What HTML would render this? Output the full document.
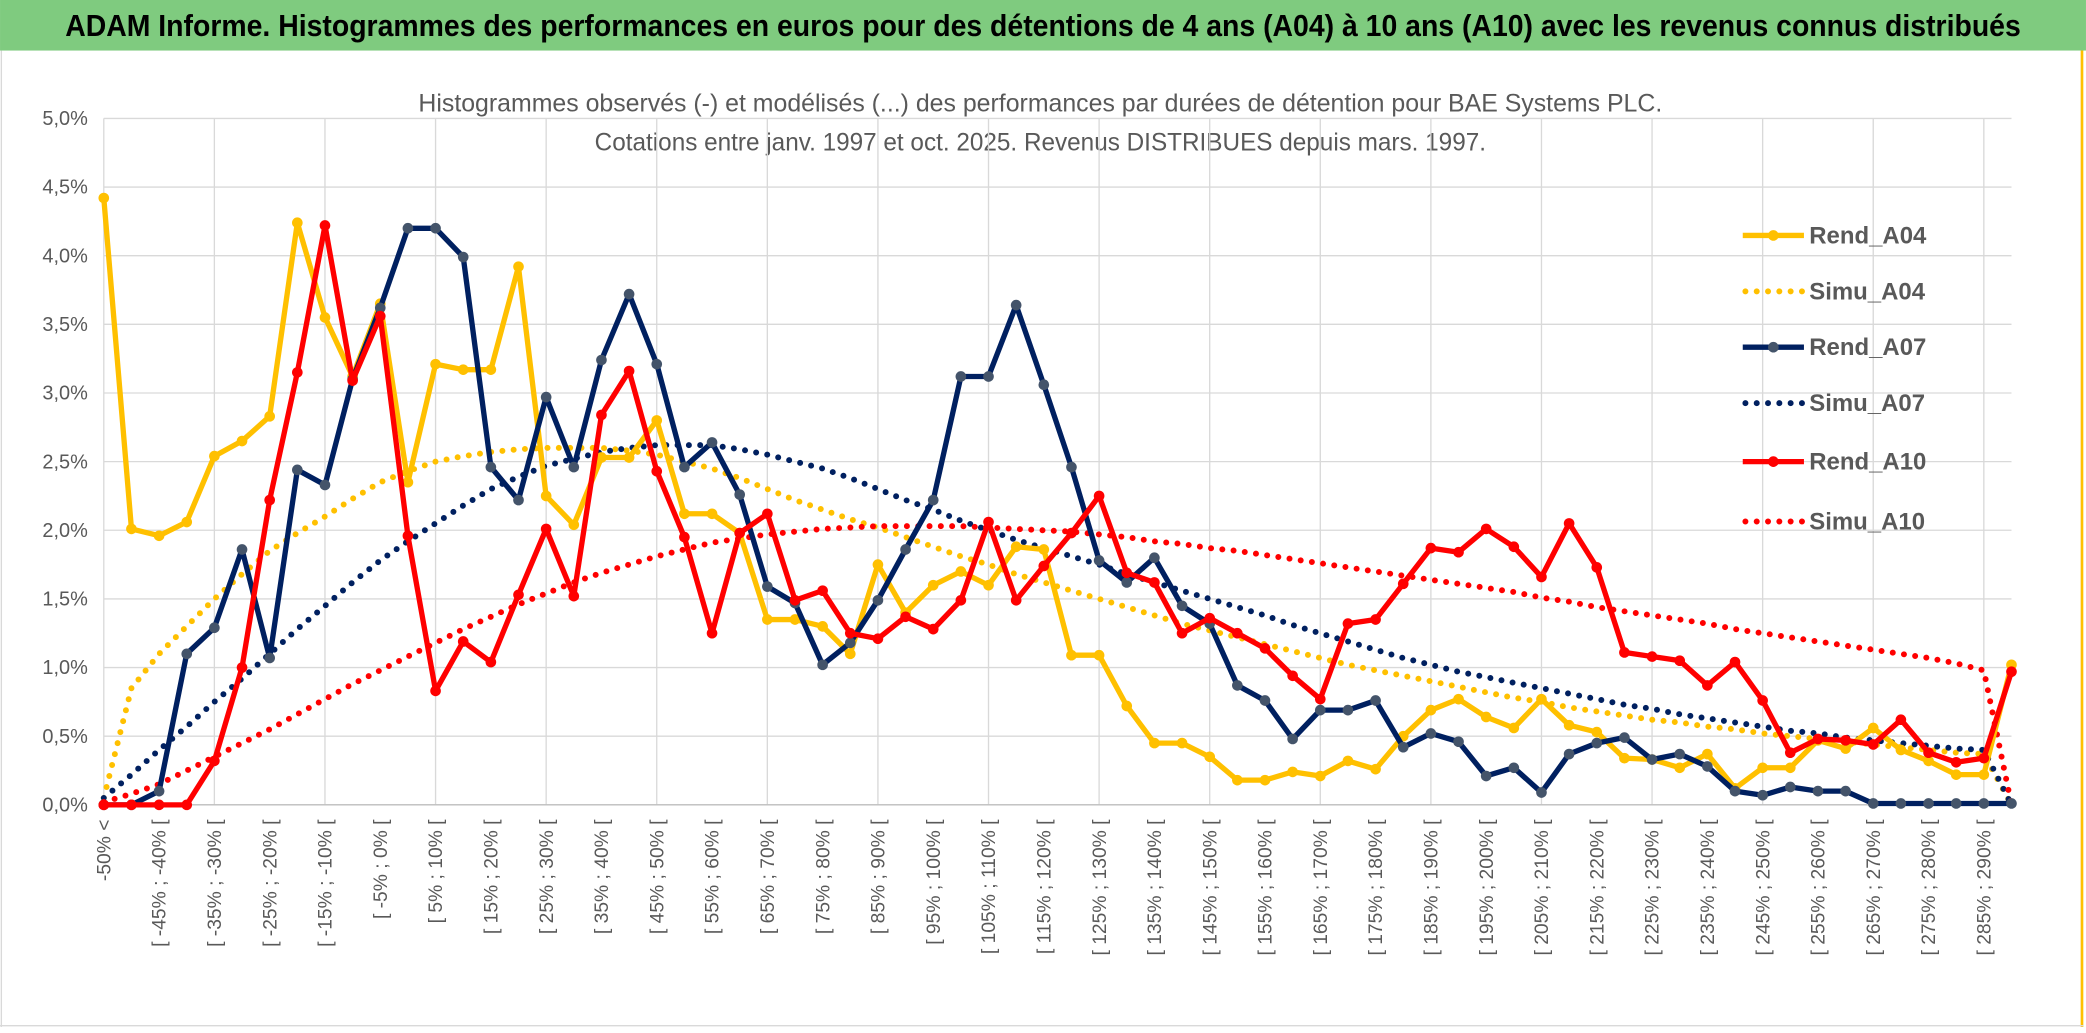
<!DOCTYPE html>
<html><head><meta charset="utf-8"><style>
html,body{margin:0;padding:0;background:#fff;}
svg{display:block;}
text{font-family:"Liberation Sans Narrow","Liberation Sans",sans-serif;}
</style></head><body>
<svg id="chart" width="2086" height="1033" viewBox="0 0 1568 776.5" xmlns="http://www.w3.org/2000/svg">
<rect x="0" y="0" width="1568" height="776.5" fill="#fff"/>
<rect x="0" y="0" width="1568" height="38" fill="#7fcb7f"/>
<text x="784" y="27" text-anchor="middle" font-size="23" font-weight="bold" fill="#000" textLength="1470" lengthAdjust="spacingAndGlyphs">ADAM Informe. Histogrammes des performances en euros pour des détentions de 4 ans (A04) à 10 ans (A10) avec les revenus connus distribués</text>
<line x1="1565" y1="38" x2="1565" y2="772" stroke="#ffc000" stroke-width="2"/>
<line x1="1" y1="38" x2="1" y2="772" stroke="#d9d9d9" stroke-width="1"/>
<line x1="0" y1="771" x2="1566" y2="771" stroke="#d9d9d9" stroke-width="1"/>
<text x="782" y="84" text-anchor="middle" font-size="19" fill="#595959" textLength="935" lengthAdjust="spacingAndGlyphs">Histogrammes observés (-) et modélisés (...) des performances par durées de détention pour BAE Systems PLC.</text>
<text x="782" y="113" text-anchor="middle" font-size="19" fill="#595959" textLength="670" lengthAdjust="spacingAndGlyphs">Cotations entre janv. 1997 et oct. 2025. Revenus DISTRIBUES depuis mars. 1997.</text>
<g id="grid"></g><g id="yaxis"></g><g id="xaxis"></g><g id="series"></g><g id="legend"></g>
</svg>
<script>
const rendA04=[4.42,2.01,1.96,2.06,2.54,2.65,2.83,4.24,3.55,3.12,3.65,2.35,3.21,3.17,3.17,3.92,2.25,2.04,2.53,2.53,2.80,2.12,2.12,1.98,1.35,1.35,1.30,1.10,1.75,1.40,1.60,1.70,1.60,1.88,1.86,1.09,1.09,0.72,0.45,0.45,0.35,0.18,0.18,0.24,0.21,0.32,0.26,0.50,0.69,0.77,0.64,0.56,0.77,0.58,0.53,0.34,0.33,0.27,0.37,0.12,0.27,0.27,0.47,0.41,0.56,0.40,0.32,0.22,0.22,1.02];
const rendA07=[0,0,0.1,1.1,1.29,1.86,1.07,2.44,2.33,3.10,3.62,4.20,4.20,3.99,2.46,2.22,2.97,2.46,3.24,3.72,3.21,2.46,2.64,2.26,1.59,1.47,1.02,1.18,1.49,1.86,2.22,3.12,3.12,3.64,3.06,2.46,1.78,1.62,1.80,1.45,1.32,0.87,0.76,0.48,0.69,0.69,0.76,0.42,0.52,0.46,0.21,0.27,0.09,0.37,0.45,0.49,0.33,0.37,0.28,0.10,0.07,0.13,0.10,0.10,0.01,0.01,0.01,0.01,0.01,0.01];
const rendA10=[0,0,0,0,0.32,1.0,2.22,3.15,4.22,3.09,3.56,1.96,0.83,1.19,1.04,1.53,2.01,1.52,2.84,3.16,2.43,1.95,1.25,1.98,2.12,1.49,1.56,1.25,1.21,1.37,1.28,1.49,2.06,1.49,1.74,1.98,2.25,1.69,1.62,1.25,1.36,1.25,1.14,0.94,0.77,1.32,1.35,1.61,1.87,1.84,2.01,1.88,1.66,2.05,1.73,1.11,1.08,1.05,0.87,1.04,0.76,0.38,0.48,0.47,0.44,0.62,0.38,0.31,0.34,0.97];
const simuA04=[0.05,0.85,1.1,1.3,1.5,1.68,1.85,1.98,2.1,2.23,2.35,2.43,2.5,2.54,2.57,2.59,2.6,2.6,2.6,2.58,2.55,2.5,2.45,2.38,2.3,2.22,2.15,2.08,2.02,1.95,1.88,1.81,1.75,1.68,1.62,1.56,1.5,1.44,1.38,1.32,1.27,1.22,1.17,1.12,1.07,1.02,0.98,0.94,0.9,0.86,0.82,0.78,0.75,0.71,0.68,0.65,0.62,0.6,0.57,0.55,0.52,0.5,0.48,0.46,0.44,0.42,0.4,0.38,0.37,0];
const simuA07=[0.05,0.22,0.4,0.57,0.75,0.92,1.1,1.28,1.45,1.62,1.78,1.92,2.05,2.18,2.3,2.39,2.47,2.52,2.57,2.6,2.62,2.62,2.62,2.59,2.55,2.5,2.45,2.38,2.3,2.22,2.15,2.07,2.0,1.93,1.87,1.81,1.75,1.68,1.62,1.56,1.5,1.44,1.38,1.31,1.25,1.19,1.13,1.07,1.02,0.97,0.93,0.89,0.85,0.81,0.77,0.73,0.7,0.66,0.63,0.6,0.57,0.54,0.52,0.49,0.47,0.45,0.43,0.41,0.4,0];
const simuA10=[0.02,0.08,0.15,0.25,0.35,0.45,0.55,0.66,0.77,0.88,0.98,1.08,1.18,1.28,1.37,1.46,1.54,1.62,1.69,1.75,1.81,1.86,1.91,1.94,1.97,1.99,2.01,2.02,2.03,2.03,2.03,2.03,2.02,2.01,2.0,1.99,1.97,1.95,1.92,1.9,1.87,1.85,1.82,1.79,1.76,1.73,1.7,1.67,1.64,1.61,1.58,1.55,1.51,1.48,1.44,1.41,1.38,1.35,1.32,1.28,1.25,1.22,1.19,1.16,1.13,1.1,1.07,1.03,0.98,0];
const yTicks=[0,0.5,1,1.5,2,2.5,3,3.5,4,4.5,5];
const yTickLabels=["0,0%","0,5%","1,0%","1,5%","2,0%","2,5%","3,0%","3,5%","4,0%","4,5%","5,0%"];
const categories=["-50% <"];
for(let lo=-50;lo<295;lo+=5){categories.push("[ "+lo+"% ; "+(lo+5)+"% [");}
const seriesNames=["Rend_A04","Simu_A04","Rend_A07","Simu_A07","Rend_A10","Simu_A10"];

const NS="http://www.w3.org/2000/svg";
const X0=78,X1=1512,Y0=605,Y1=89;
function xs(i){return X0+i*(X1-X0)/(categories.length-1);}
function ys(v){return Y0-(v/5)*(Y0-Y1);}
function mk(tag,attrs,parent){const e=document.createElementNS(NS,tag);for(const k in attrs)e.setAttribute(k,attrs[k]);parent.appendChild(e);return e;}
const grid=document.getElementById('grid'),yax=document.getElementById('yaxis'),xax=document.getElementById('xaxis'),ser=document.getElementById('series'),leg=document.getElementById('legend');
yTicks.forEach((t,i)=>{
 const l=mk('line',{x1:X0,x2:X1,y1:ys(t),y2:ys(t),stroke:'#d9d9d9','stroke-width':1},grid);
 
 
 const tx=mk('text',{x:66,y:ys(t)+5,'text-anchor':'end','font-size':15,fill:'#595959'},yax);
 tx.textContent=yTickLabels[i];
 
 
});
categories.forEach((c,i)=>{
 if(i%4===0){
  const l=mk('line',{x1:xs(i),x2:xs(i),y1:Y1,y2:Y0,stroke:'#d9d9d9','stroke-width':1},grid);
  
  
 }
 if(i%2===0){
  const tx=mk('text',{x:0,y:0,'text-anchor':'end','font-size':14.5,fill:'#595959',transform:'translate('+(xs(i)+5)+',616) rotate(-90)'},xax);
  tx.textContent=c;
  
  
 }
});
const axl=mk('line',{x1:X0,x2:X1,y1:Y0,y2:Y0,stroke:'#bfbfbf','stroke-width':1},grid);



function pts(arr){return arr.map((v,i)=>xs(i).toFixed(1)+','+ys(v).toFixed(1)).join(' ');}
function dotted(arr,color,name){
 const p=mk('polyline',{points:pts(arr),fill:'none',stroke:color,'stroke-width':4.5,'stroke-linecap':'round','stroke-dasharray':'0 8.5'},ser);
 
 
}
function solid(arr,color,mcolor,name){
 const p=mk('polyline',{points:pts(arr),fill:'none',stroke:color,'stroke-width':4,'stroke-linejoin':'round'},ser);
 
 
 arr.forEach((v,i)=>{
  const c=mk('circle',{cx:xs(i),cy:ys(v),r:4,fill:mcolor},ser);
  
  
 });
}
dotted(simuA04,'#ffc000','simu-a04-line');
dotted(simuA07,'#002060','simu-a07-line');
dotted(simuA10,'#ff0000','simu-a10-line');
solid(rendA04,'#ffc000','#ffc000','rend-a04-line');
solid(rendA07,'#002060','#44546a','rend-a07-line');
solid(rendA10,'#ff0000','#ff0000','rend-a10-line');

const legColors=['#ffc000','#ffc000','#002060','#002060','#ff0000','#ff0000'];
const legMarker=['#ffc000',null,'#44546a',null,'#ff0000',null];
const legY=[177,219,261,303,347,392];
seriesNames.forEach((n,i)=>{
 const g=mk('g',{},leg);
 
 
 const y=legY[i];
 if(legMarker[i]){
  mk('line',{x1:1310,x2:1356,y1:y,y2:y,stroke:legColors[i],'stroke-width':4},g);
  mk('circle',{cx:1333,cy:y,r:4,fill:legMarker[i]},g);
 }else{
  mk('line',{x1:1312,x2:1356,y1:y,y2:y,stroke:legColors[i],'stroke-width':4.5,'stroke-linecap':'round','stroke-dasharray':'0 8.5'},g);
 }
 const t=mk('text',{x:1360,y:y+6,'font-size':18,'font-weight':'bold',fill:'#595959'},g);
 t.textContent=n;
});
</script>
</body></html>
